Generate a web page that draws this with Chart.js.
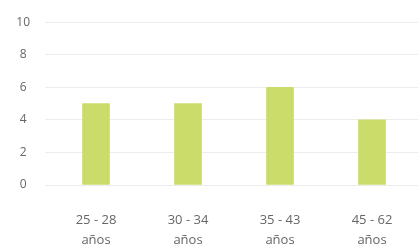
<!DOCTYPE html>
<html>
<head>
<meta charset="utf-8">
<script src="https://cdn.jsdelivr.net/npm/chart.js@4/dist/chart.umd.min.js"></script>
<style>
  html, body { margin: 0; padding: 0; background: #fff; overflow: hidden; }
  .bar-chart { width: 418px; height: 250px; }
</style>
</head>
<body>
<div class="bar-chart">
  <canvas id="chart" width="418" height="250"></canvas>
</div>
<script>
const categories = [
  ['25 - 28', 'años'],
  ['30 - 34', 'años'],
  ['35 - 43', 'años'],
  ['45 - 62', 'años']
];
const counts = [5, 5, 6, 4];
const yTicks = [0, 2, 4, 6, 8, 10];

const ctx = document.getElementById('chart').getContext('2d');

new Chart(ctx, {
  type: 'bar',
  data: {
    labels: categories,
    datasets: [{
      label: 'Personas',
      data: counts,
      backgroundColor: '#cbdc6b',
      barThickness: 27
    }]
  },
  options: {
    responsive: false,
    animation: false,
    layout: { padding: { top: 19, right: 0, left: 0, bottom: 0 } },
    plugins: {
      legend: { display: false },
      tooltip: { enabled: false }
    },
    scales: {
      x: {
        afterFit: (axis) => { axis.height = 65; },
        grid: { display: false, drawTicks: false },
        border: { display: false },
        ticks: {
          color: '#666',
          padding: 25,
          maxRotation: 0,
          font: { family: 'Open Sans', size: 13, lineHeight: '20px' }
        }
      },
      y: {
        min: 0,
        max: yTicks[yTicks.length - 1],
        afterBuildTicks: (axis) => {
          axis.ticks = yTicks.map((v) => ({ value: v }));
        },
        afterFit: (axis) => { axis.width = 50; },
        grid: { color: '#ececec', tickLength: 5 },
        border: { display: false },
        ticks: {
          color: '#666',
          padding: 15,
          crossAlign: 'center',
          font: { family: 'Open Sans', size: 12 }
        }
      }
    }
  }
});
</script>
</body>
</html>
